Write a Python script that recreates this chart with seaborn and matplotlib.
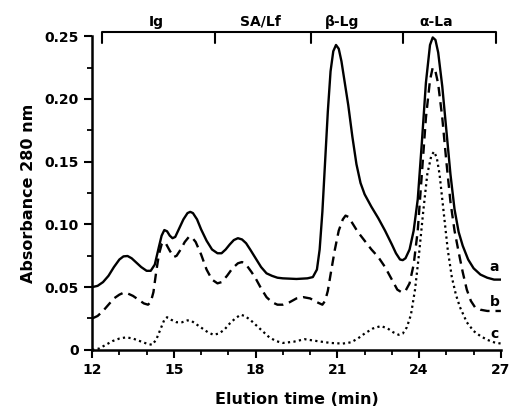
import numpy as np
import pandas as pd
import matplotlib
matplotlib.use("Agg")
import matplotlib.pyplot as plt
import seaborn as sns

# curve a (solid)
time_a = [12.0, 12.2, 12.4, 12.6, 12.8, 13.0, 13.15, 13.3, 13.45, 13.6, 13.8, 14.0, 14.15, 14.3, 14.45,
          14.55, 14.65, 14.75, 14.85, 14.95, 15.05, 15.2, 15.35, 15.5, 15.6, 15.7, 15.85, 16.0, 16.2,
          16.4, 16.6, 16.75, 16.9, 17.05, 17.2, 17.35, 17.5, 17.65, 17.8, 18.0, 18.2, 18.4, 18.6, 18.8,
          19.0, 19.5, 19.9, 20.1, 20.25, 20.35, 20.45, 20.55, 20.65, 20.75, 20.85, 20.95, 21.05, 21.15,
          21.25, 21.4, 21.55, 21.7, 21.85, 22.0, 22.25, 22.5, 22.75, 23.0, 23.15, 23.3, 23.4, 23.5, 23.65,
          23.8, 23.95, 24.1, 24.25, 24.4, 24.5, 24.6, 24.7, 24.85, 25.0, 25.15, 25.3, 25.45, 25.6, 25.8,
          26.0, 26.25, 26.5, 26.75, 27.0]
abs_a = [0.050, 0.051, 0.054, 0.059, 0.066, 0.072, 0.0745, 0.0748, 0.073, 0.070, 0.066, 0.063, 0.063, 0.068,
         0.082, 0.091, 0.0955, 0.0945, 0.091, 0.089, 0.090, 0.097, 0.104, 0.109, 0.110, 0.109, 0.104, 0.096,
         0.087, 0.080, 0.077, 0.077, 0.080, 0.084, 0.0875, 0.089, 0.088, 0.085, 0.080, 0.073, 0.066, 0.061,
         0.059, 0.0575, 0.057, 0.0565, 0.057, 0.058, 0.064, 0.080, 0.110, 0.150, 0.190, 0.222, 0.238, 0.243,
         0.240, 0.230, 0.216, 0.195, 0.170, 0.148, 0.133, 0.124, 0.114, 0.105, 0.095, 0.084, 0.077, 0.072,
         0.0715, 0.073, 0.080, 0.095, 0.120, 0.165, 0.213, 0.243, 0.249, 0.247, 0.237, 0.210, 0.175, 0.140,
         0.112, 0.094, 0.083, 0.072, 0.065, 0.060, 0.0575, 0.056, 0.056]

# curve b (dashed)
time_b = [12.0, 12.2, 12.4, 12.6, 12.8, 13.0, 13.15, 13.3, 13.5, 13.7, 13.9, 14.05, 14.15, 14.25, 14.35,
          14.45, 14.55, 14.62, 14.7, 14.85, 15.0, 15.1, 15.25, 15.4, 15.55, 15.65, 15.8, 16.0, 16.2, 16.4,
          16.6, 16.75, 16.95, 17.15, 17.35, 17.5, 17.65, 17.85, 18.0, 18.2, 18.4, 18.6, 18.8, 19.0, 19.25,
          19.5, 19.75, 20.0, 20.25, 20.45, 20.55, 20.65, 20.75, 20.9, 21.05, 21.2, 21.3, 21.4, 21.55, 21.75,
          22.0, 22.25, 22.5, 22.75, 23.0, 23.2, 23.35, 23.5, 23.65, 23.8, 23.95, 24.1, 24.25, 24.4, 24.5,
          24.6, 24.7, 24.85, 25.0, 25.15, 25.3, 25.45, 25.6, 25.75, 25.9, 26.05, 26.25, 26.5, 26.75, 27.0]
abs_b = [0.025, 0.027, 0.031, 0.036, 0.041, 0.044, 0.0455, 0.045, 0.043, 0.040, 0.037, 0.036, 0.038, 0.046,
         0.062, 0.076, 0.084, 0.086, 0.085, 0.079, 0.074, 0.075, 0.080, 0.086, 0.090, 0.090, 0.086, 0.076,
         0.064, 0.056, 0.053, 0.054, 0.059, 0.065, 0.069, 0.070, 0.068, 0.062, 0.057, 0.049, 0.042, 0.038,
         0.036, 0.036, 0.038, 0.041, 0.042, 0.041, 0.038, 0.036, 0.039, 0.047, 0.060, 0.079, 0.095, 0.104,
         0.107, 0.106, 0.101, 0.094, 0.087, 0.080, 0.074, 0.066, 0.056, 0.048, 0.046, 0.047, 0.053, 0.068,
         0.095, 0.140, 0.185, 0.215, 0.225, 0.222, 0.212, 0.185, 0.150, 0.118, 0.095, 0.078, 0.062, 0.048,
         0.039, 0.034, 0.032, 0.031, 0.031, 0.031]

# curve c (dotted)
time_c = [12.0, 12.25, 12.5, 12.75, 13.0, 13.25, 13.5, 13.75, 14.0, 14.2, 14.35, 14.5, 14.65, 14.75, 14.9,
          15.1, 15.3, 15.5, 15.65, 15.85, 16.05, 16.25, 16.45, 16.65, 16.85, 17.05, 17.25, 17.45, 17.6,
          17.8, 18.0, 18.25, 18.5, 18.75, 19.0, 19.4, 19.8, 20.25, 20.75, 21.2, 21.5, 21.75, 22.0, 22.3,
          22.6, 22.85, 23.05, 23.25, 23.4, 23.55, 23.7, 23.85, 24.0, 24.15, 24.3, 24.45, 24.55, 24.65,
          24.75, 24.9, 25.05, 25.2, 25.35, 25.5, 25.75, 26.0, 26.25, 26.5, 26.75, 27.0]
abs_c = [0.000, 0.001, 0.004, 0.007, 0.009, 0.010, 0.009, 0.007, 0.005, 0.004, 0.008, 0.016, 0.024, 0.026,
         0.024, 0.022, 0.022, 0.0235, 0.023, 0.020, 0.017, 0.014, 0.012, 0.013, 0.016, 0.021, 0.025, 0.028,
         0.027, 0.024, 0.020, 0.015, 0.010, 0.007, 0.0055, 0.0065, 0.0085, 0.007, 0.0055, 0.005, 0.006,
         0.009, 0.013, 0.017, 0.019, 0.017, 0.014, 0.012, 0.013, 0.018, 0.028, 0.048, 0.077, 0.110, 0.140,
         0.155, 0.158, 0.153, 0.140, 0.110, 0.080, 0.058, 0.044, 0.034, 0.022, 0.015, 0.011, 0.008, 0.006,
         0.005]

curve_names = ["a", "b", "c"]
curve_label_y = [0.066, 0.038, 0.013]

# fraction bracket on top
bracket_edges = [12.36, 16.51, 20.05, 23.41, 26.81]
fraction_names = ["Ig", "SA/Lf", "β-Lg", "α-La"]
fraction_x = [14.37, 18.16, 21.18, 24.64]

sns.set_style("ticks", {"axes.edgecolor": "black", "text.color": "black", "axes.labelcolor": "black",
                        "xtick.color": "black", "ytick.color": "black"})
plt.rcParams["font.family"] = ["DejaVu Sans"]
plt.rcParams["font.weight"] = "bold"

fig = plt.figure(figsize=(5.09, 4.16), dpi=100)
ax = fig.add_axes([0.181, 0.159, 0.803, 0.754])

sns.lineplot(x=time_a, y=abs_a, ax=ax, color="black", lw=1.7, sort=False)
sns.lineplot(x=time_b, y=abs_b, ax=ax, color="black", lw=1.7, sort=False,
             linestyle=(0, (4, 2.5)))
sns.lineplot(x=time_c, y=abs_c, ax=ax, color="black", lw=1.6, sort=False,
             linestyle=(0, (1, 1.5)))

for name, yy in zip(curve_names, curve_label_y):
    ax.text(26.77, yy, name, ha="center", va="center", fontsize=10, fontweight="bold", color="black")

# bracket
ax.plot([bracket_edges[0], bracket_edges[-1]], [0.2535, 0.2535], color="black", lw=1.5,
        clip_on=False, solid_capstyle="butt")
for xe in bracket_edges:
    ax.plot([xe, xe], [0.2535, 0.2445], color="black", lw=1.5, clip_on=False)
for name, xx in zip(fraction_names, fraction_x):
    ax.text(xx, 0.2615, name, ha="center", va="center", fontsize=10, fontweight="bold", color="black")

ax.set_xlim(12, 27)
ax.set_ylim(0, 0.25)
ax.set_xticks([12, 15, 18, 21, 24, 27])
ax.set_xticks(np.arange(12, 28, 1), minor=True)
ax.set_yticks([0, 0.05, 0.10, 0.15, 0.20, 0.25])
ax.set_yticklabels(["0", "0.05", "0.10", "0.15", "0.20", "0.25"])
ax.set_yticks(np.arange(0, 0.2501, 0.025), minor=True)
ax.tick_params(which="major", direction="out", length=6, width=1.5, labelsize=10, colors="black")
ax.tick_params(which="minor", direction="out", length=3.5, width=1.3, colors="black")
for lab in ax.get_xticklabels() + ax.get_yticklabels():
    lab.set_fontweight("bold")

sns.despine(ax=ax)
ax.spines["left"].set_linewidth(1.8)
ax.spines["bottom"].set_linewidth(1.8)

ax.set_xlabel("Elution time (min)", fontsize=11.5, fontweight="bold", labelpad=11, color="black")
ax.set_ylabel("Absorbance 280 nm", fontsize=11.5, fontweight="bold", labelpad=6, color="black")

fig.savefig("out.png", dpi=100)
